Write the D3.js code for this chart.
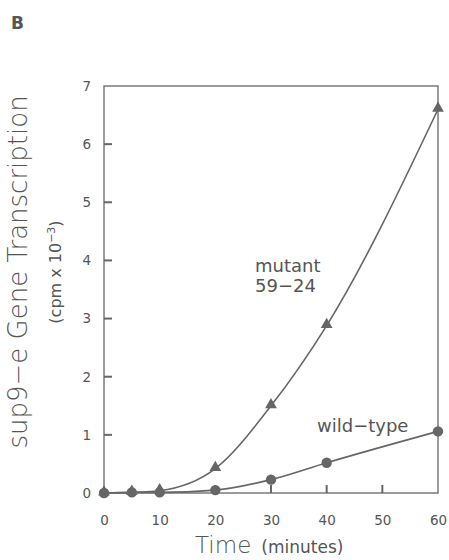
<!DOCTYPE html>
<html><head><meta charset="utf-8">
<script src="https://cdn.jsdelivr.net/npm/d3@7"></script>
<style>body{margin:0;background:#fff}svg{display:block}text{font-family:"DejaVu Sans",sans-serif;fill:#555}</style>
</head><body>
<script>
const times = [0, 5, 10, 20, 30, 40, 60];
const mutant = [0, 0.01, 0.04, 0.42, 1.50, 2.88, 6.6];
const wildType = [0, 0.01, 0.01, 0.05, 0.23, 0.52, 1.06];
const xTicks = [0, 10, 20, 30, 40, 50, 60];
const yTicks = [0, 1, 2, 3, 4, 5, 6, 7];

const W = 449, H = 560;
const svg = d3.select("body").append("svg").attr("width", W).attr("height", H);
const x = d3.scaleLinear().domain([0, 60]).range([104, 438]);
const y = d3.scaleLinear().domain([0, 7]).range([493, 86]);
const col = "#666";

// frame
svg.append("rect").attr("x", x(0)).attr("y", y(7)).attr("width", x(60) - x(0)).attr("height", y(0) - y(7))
  .attr("fill", "none").attr("stroke", col).attr("stroke-width", 1.3);

const xa = svg.append("g").attr("transform", `translate(0,${y(0)})`)
  .call(d3.axisBottom(x).tickValues(xTicks).tickFormat(d3.format("d")).tickSize(0).tickPadding(22));
const ya = svg.append("g").attr("transform", `translate(${x(0)},0)`)
  .call(d3.axisLeft(y).tickValues(yTicks).tickFormat(d3.format("d")).tickSize(0).tickPadding(13));
[xa, ya].forEach(a => {
  a.select(".domain").remove();
  a.selectAll("text").attr("font-size", 13.5).attr("fill", "#555").style("font-family", "DejaVu Sans");
});

// inward ticks
const tickG = svg.append("g").attr("stroke", col).attr("stroke-width", 2);
yTicks.filter(d => d > 0 && d < 7).forEach(d => {
  tickG.append("path").attr("d", `M${x(0)},${y(d)}H${x(0) + 8}`);
});
xTicks.filter(d => d > 0 && d < 60).forEach(d => {
  tickG.append("path").attr("d", `M${x(d)},${y(0)}V${y(0) - 8}`);
});

const line = d3.line().x(d => x(d[0])).y(d => y(d[1])).curve(d3.curveMonotoneX);
const mData = times.map((t, i) => [t, mutant[i]]);
const wData = times.map((t, i) => [t, wildType[i]]);
svg.append("path").attr("d", line(mData)).attr("fill", "none").attr("stroke", col).attr("stroke-width", 1.6);
svg.append("path").attr("d", line(wData)).attr("fill", "none").attr("stroke", col).attr("stroke-width", 1.6);

const tri = d3.symbol().type(d3.symbolTriangle).size(60);
svg.selectAll(".tri").data(mData).enter().append("path")
  .attr("d", tri).attr("transform", d => `translate(${x(d[0])},${y(d[1]) - 1})`).attr("fill", "#666");
svg.selectAll(".dot").data(wData).enter().append("circle")
  .attr("cx", d => x(d[0])).attr("cy", d => y(d[1])).attr("r", 5.2).attr("fill", "#666");

// labels
svg.append("text").attr("x", 11).attr("y", 29).attr("font-size", 17).attr("font-weight", "bold").text("B");
svg.append("text").attr("x", 255).attr("y", 272).attr("font-size", 18).text("mutant");
svg.append("text").attr("x", 255).attr("y", 292).attr("font-size", 18).text("59\u221224");
svg.append("text").attr("x", 317).attr("y", 432).attr("font-size", 18).text("wild\u2212type");

svg.append("text").attr("transform", "translate(27,272) rotate(-90)").attr("text-anchor", "middle")
  .attr("font-size", 26).attr("font-weight", 200).attr("fill", "#666").text("sup9\u2212e Gene Transcription");
const t2 = svg.append("text").attr("transform", "translate(61,272) rotate(-90)").attr("text-anchor", "middle")
  .attr("font-size", 16);
t2.append("tspan").text("(cpm x 10");
t2.append("tspan").attr("dy", -6).attr("font-size", 11).text("\u22123");
t2.append("tspan").attr("dy", 6).text(")");

const xl = svg.append("text").attr("x", 195).attr("y", 553).attr("font-size", 23).attr("font-weight", 200).attr("fill", "#666");
xl.append("tspan").text("Time");
xl.append("tspan").attr("font-size", 17).attr("font-weight", 400).attr("fill", "#555").attr("dx", 10).text("(minutes)");
</script>
</body></html>
